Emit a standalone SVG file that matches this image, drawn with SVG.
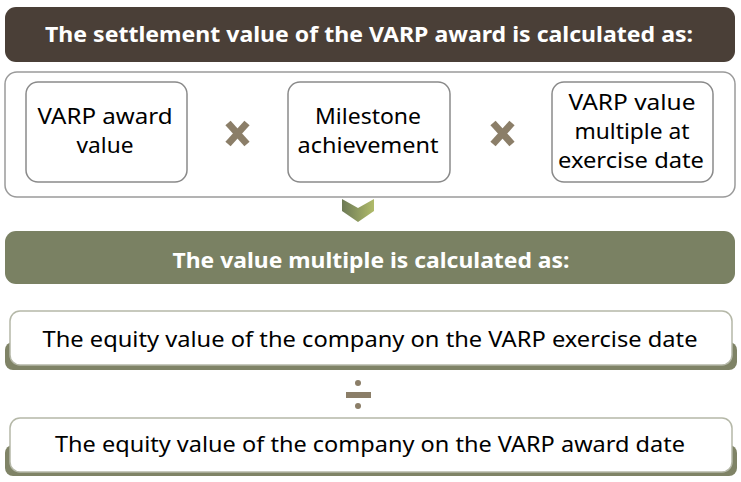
<svg xmlns="http://www.w3.org/2000/svg" width="741" height="482" viewBox="0 0 741 482">
<defs>
<style>
.t{font-family:"Noto Sans","Liberation Sans",sans-serif;font-size:22px;fill:#000;text-anchor:middle}
.h{font-family:"Noto Sans","Liberation Sans",sans-serif;font-size:22px;font-weight:bold;fill:#fff;text-anchor:middle}
.box{fill:#fff;stroke:#8a8a8a;stroke-width:1.5}
.shadow{fill:#7f8366}
.wbox{fill:#fff;stroke:#b5b8a8;stroke-width:1.5}
.op{stroke:#8b7e68;stroke-width:7;stroke-linecap:butt}
</style>
<linearGradient id="chev" x1="0" y1="0" x2="1" y2="0">
<stop offset="0" stop-color="#6d7a56"/>
<stop offset="1" stop-color="#b0bb6a"/>
</linearGradient>
</defs>

<g id="title1">
<rect x="5" y="7" width="730" height="55" rx="11" fill="#4a3f37"/>
<text class="h" x="369" y="42" textLength="648" lengthAdjust="spacingAndGlyphs">The settlement value of the VARP award is calculated as:</text>
</g>

<g id="container">
<rect x="5" y="72" width="730" height="125" rx="12" fill="#fff" stroke="#9a9a9a" stroke-width="1.5"/>
</g>

<g id="node-award">
<rect class="box" x="26" y="82" width="161" height="100" rx="12"/>
<text class="t" x="105" y="124" textLength="135" lengthAdjust="spacingAndGlyphs">VARP award</text>
<text class="t" x="105" y="153" textLength="57" lengthAdjust="spacingAndGlyphs">value</text>
</g>

<g id="node-milestone">
<rect class="box" x="288" y="82" width="162" height="100" rx="12"/>
<text class="t" x="368" y="124" textLength="106" lengthAdjust="spacingAndGlyphs">Milestone</text>
<text class="t" x="368" y="153" textLength="141" lengthAdjust="spacingAndGlyphs">achievement</text>
</g>

<g id="node-multiple">
<rect class="box" x="552" y="82" width="161" height="100" rx="12"/>
<text class="t" x="632" y="110" textLength="127" lengthAdjust="spacingAndGlyphs">VARP value</text>
<text class="t" x="632" y="139" textLength="115" lengthAdjust="spacingAndGlyphs">multiple at</text>
<text class="t" x="631" y="168" textLength="146" lengthAdjust="spacingAndGlyphs">exercise date</text>
</g>

<g id="operators">
<line class="op" x1="228" y1="123" x2="247" y2="144"/>
<line class="op" x1="247" y1="123" x2="228" y2="144"/>
<line class="op" x1="493" y1="123" x2="512" y2="144"/>
<line class="op" x1="512" y1="123" x2="493" y2="144"/>
<rect x="346" y="392" width="25" height="6" fill="#8b7e68"/>
<circle cx="358" cy="383" r="3" fill="#8b7e68"/>
<circle cx="358" cy="406" r="3" fill="#8b7e68"/>
</g>

<g id="connectors">
<polygon points="342,199 358,208 374,199 374,211 358,222 342,211" fill="url(#chev)"/>
</g>

<g id="title2">
<rect x="5" y="231" width="730" height="53" rx="11" fill="#7a8163"/>
<text class="h" x="371" y="268" textLength="397" lengthAdjust="spacingAndGlyphs">The value multiple is calculated as:</text>
</g>

<g id="node-exercise">
<rect class="shadow" x="5" y="342" width="732" height="28" rx="8"/>
<rect class="wbox" x="10" y="311" width="722" height="54" rx="10"/>
<text class="t" x="370" y="347" textLength="655" lengthAdjust="spacingAndGlyphs">The equity value of the company on the VARP exercise date</text>
</g>

<g id="node-awarddate">
<rect class="shadow" x="5" y="445" width="732" height="31" rx="8"/>
<rect class="wbox" x="10" y="418" width="722" height="54" rx="10"/>
<text class="t" x="370" y="452" textLength="630" lengthAdjust="spacingAndGlyphs">The equity value of the company on the VARP award date</text>
</g>
</svg>
